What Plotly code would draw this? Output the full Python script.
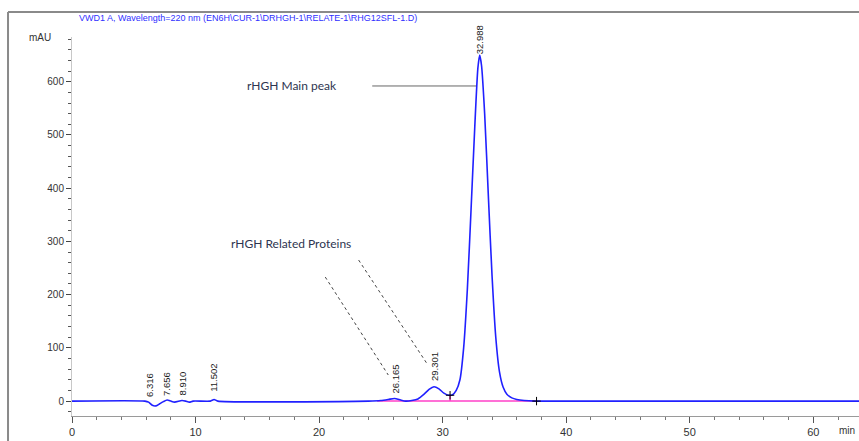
import plotly.graph_objects as go

# ---- data ----
time_min = [0, 5.9, 6.2, 6.5, 6.8, 7.1, 7.4, 7.7, 8.0, 8.3, 8.9, 9.2, 9.5, 9.8,
            11.2, 11.5, 11.8, 24.0, 25.0, 25.6, 26.1, 26.6, 27.0, 27.5, 28.0,
            28.5, 28.9, 29.3, 29.7, 30.1, 30.5, 30.8, 31.1, 31.4, 31.7, 32.0,
            32.3, 32.6, 32.85, 33.0, 33.15, 33.4, 33.7, 34.0, 34.3, 34.6, 34.9,
            35.2, 35.6, 36.0, 36.6, 37.5, 64]
signal_mau = [0, 0, -2, -8, -9, -5, -1, 2, 0, -2, 1, 0, -2, 0,
              0, 3, 0, 0, 1, 3, 5, 2, 0, 1, 4,
              13, 22, 27, 23, 15, 11, 12, 20, 40, 100, 210,
              360, 515, 625, 650, 630, 540, 385, 235, 120, 55, 26,
              13, 6, 3, 1, 0, 0]

peak_times = [6.316, 7.656, 8.910, 11.502, 26.165, 29.301, 32.988]
peak_labels = ["6.316", "7.656", "8.910", "11.502", "26.165", "29.301", "32.988"]
peak_label_y = [4, 5, 7, 14, 10, 33, 648]

baseline_x = [24.7, 37.6]
baseline_y = [0, 0]
drop_x = [30.6, 30.6]
drop_y = [0, 11]
delimiter_x = [30.6, 37.6]
delimiter_y = [11, 0]

title_text = "VWD1 A, Wavelength=220 nm (EN6H\\CUR-1\\DRHGH-1\\RELATE-1\\RHG12SFL-1.D)"

fig = go.Figure()

fig.add_trace(go.Scatter(x=baseline_x, y=baseline_y, mode="lines",
                         line=dict(color="#ff40c8", width=1.5), hoverinfo="skip"))
fig.add_trace(go.Scatter(x=drop_x, y=drop_y, mode="lines",
                         line=dict(color="#ff40c8", width=1.5), hoverinfo="skip"))
fig.add_trace(go.Scatter(x=time_min, y=signal_mau, mode="lines",
                         line=dict(color="#2020ff", width=1.6, shape="spline", smoothing=0.6)))
fig.add_trace(go.Scatter(x=delimiter_x, y=delimiter_y, mode="markers",
                         marker=dict(symbol="cross-thin", size=6, color="black",
                                     line=dict(color="black", width=1)), hoverinfo="skip"))

for t, lab, yy in zip(peak_times, peak_labels, peak_label_y):
    fig.add_annotation(x=t, y=yy, text=lab, textangle=-90, showarrow=False,
                       xanchor="center", yanchor="bottom",
                       font=dict(family="Liberation Sans", size=9.5, color="#222"))

# text labels
fig.add_annotation(x=17.8, y=592, text="rHGH Main peak", showarrow=False,
                   font=dict(family="Lato", size=12, color="#2e3550"))
fig.add_annotation(x=17.7, y=297, text="rHGH Related Proteins", showarrow=False,
                   font=dict(family="Lato", size=12, color="#2e3550"))

# pointer lines
fig.add_shape(type="line", x0=24.3, y0=592, x1=32.7, y1=592,
              line=dict(color="#666", width=1))
fig.add_shape(type="line", x0=20.5, y0=233, x1=25.6, y1=49,
              line=dict(color="#444", width=1, dash="dot"))
fig.add_shape(type="line", x0=23.2, y0=265, x1=28.8, y1=68,
              line=dict(color="#444", width=1, dash="dot"))

# frame lines (screenshot border)
fig.add_shape(type="line", xref="paper", yref="paper", x0=-0.0813, x1=1.0,
              y0=1.066, y1=1.066, line=dict(color="#8a8a8a", width=2))
fig.add_shape(type="line", xref="paper", yref="paper", x0=-0.0813, x1=-0.0813,
              y0=1.066, y1=-0.07, line=dict(color="#8a8a8a", width=2))

fig.add_annotation(xref="paper", yref="paper", x=0.0064, y=1.05, text=title_text,
                   showarrow=False, xanchor="left", yanchor="middle",
                   font=dict(family="Liberation Sans", size=9, color="#3030ff"))
fig.add_annotation(xref="paper", yref="paper", x=-0.041, y=1.0, text="mAU",
                   showarrow=False, xanchor="center", yanchor="middle",
                   font=dict(family="Liberation Sans", size=10, color="#333"))
fig.add_annotation(xref="paper", yref="paper", x=0.998, y=-0.058, text="min",
                   showarrow=False, xanchor="right", yanchor="bottom",
                   font=dict(family="Liberation Sans", size=10, color="#333"))

fig.update_layout(
    width=859, height=441,
    margin=dict(l=72, r=0, t=37, b=25),
    paper_bgcolor="white", plot_bgcolor="white",
    showlegend=False,
    xaxis=dict(range=[0, 63.7], dtick=10, tick0=0, showgrid=False, zeroline=False,
               showline=True, linecolor="#9a9a9a", linewidth=1,
               ticks="outside", ticklen=6, tickcolor="#555",
               minor=dict(dtick=2, ticks="outside", ticklen=3, tickcolor="#777"),
               tickfont=dict(family="Liberation Sans", size=11, color="#333")),
    yaxis=dict(range=[-28, 684], tickvals=[0, 100, 200, 300, 400, 500, 600],
               showgrid=False, zeroline=False,
               showline=True, linecolor="#c8c8c8", linewidth=1,
               ticks="outside", ticklen=5, tickcolor="#444",
               minor=dict(dtick=20, ticks="outside", ticklen=3, tickcolor="#555"),
               tickfont=dict(family="Liberation Sans", size=10, color="#333")),
)

fig.write_html("out.html")
